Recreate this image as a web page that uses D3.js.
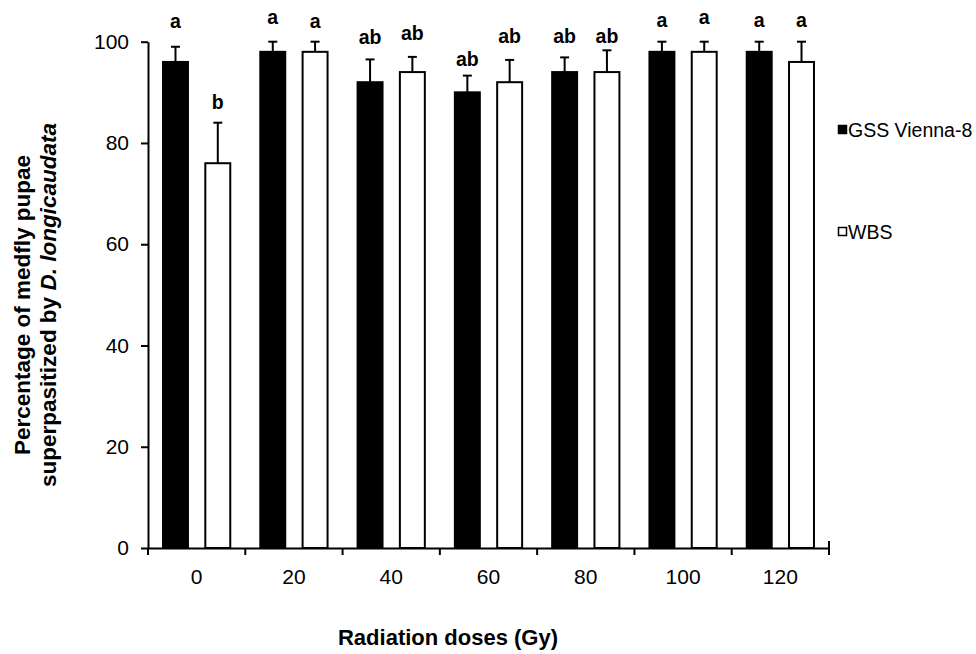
<!DOCTYPE html>
<html>
<head>
<meta charset="utf-8">
<script src="https://cdn.jsdelivr.net/npm/d3@7"></script>
<style>
  html, body { margin: 0; padding: 0; background: #fff; overflow: hidden; }
  svg { display: block; font-family: Arial, "Liberation Sans", sans-serif; }
</style>
</head>
<body>
<svg id="chart" width="976" height="654"></svg>
<script>
// ---- data ----
const doses = ["0", "20", "40", "60", "80", "100", "120"];
const seriesNames = ["GSS Vienna-8", "WBS"];
const gssValues = [96, 98, 92, 90, 94, 98, 98];
const gssErrors = [3, 2, 4.5, 3.3, 2.9, 2, 2];
const wbsValues = [76, 98, 94, 92, 94, 98, 96];
const wbsErrors = [8, 2, 3, 4.4, 4.3, 2, 4];
const gssLetters = ["a", "a", "ab", "ab", "ab", "a", "a"];
const wbsLetters = ["b", "a", "ab", "ab", "ab", "a", "a"];
const gssLetterY = [104.1, 104.9, 100.8, 96.6, 101.0, 104.3, 104.3];
const wbsLetterY = [88.1, 104.1, 101.6, 101.0, 101.0, 104.9, 104.3];
const yTicks = [0, 20, 40, 60, 80, 100];

const fills = ["#000000", "#ffffff"];

const svg = d3.select("#chart");
const plotLeft = 148, plotRight = 829, plotTop = 41.7, plotBottom = 548;

const x0 = d3.scaleBand().domain(doses).range([plotLeft, plotRight]).padding(0);
const x1 = d3.scaleBand().domain(seriesNames).range([0, x0.bandwidth()])
  .paddingInner(0.41).paddingOuter(0.355);
const y = d3.scaleLinear().domain([0, 100]).range([plotBottom, plotTop]);

const rows = [];
doses.forEach((d, i) => {
  rows.push({dose: d, s: seriesNames[0], v: gssValues[i], e: gssErrors[i], l: gssLetters[i], ly: gssLetterY[i]});
  rows.push({dose: d, s: seriesNames[1], v: wbsValues[i], e: wbsErrors[i], l: wbsLetters[i], ly: wbsLetterY[i]});
});

// bars
svg.append("g").selectAll("rect").data(rows).join("rect")
  .attr("x", d => x0(d.dose) + x1(d.s))
  .attr("y", d => y(d.v))
  .attr("width", x1.bandwidth())
  .attr("height", d => y(0) - y(d.v))
  .attr("fill", d => fills[seriesNames.indexOf(d.s)])
  .attr("stroke", "#000")
  .attr("stroke-width", 2);

// error bars (upper only)
const eg = svg.append("g").attr("stroke", "#000").attr("stroke-width", 2);
rows.forEach(d => {
  const cx = x0(d.dose) + x1(d.s) + x1.bandwidth() / 2;
  eg.append("line").attr("x1", cx).attr("x2", cx).attr("y1", y(d.v)).attr("y2", y(d.v + d.e));
  eg.append("line").attr("x1", cx - 4.5).attr("x2", cx + 4.5).attr("y1", y(d.v + d.e)).attr("y2", y(d.v + d.e));
});

// significance letters
svg.append("g").selectAll("text").data(rows).join("text")
  .attr("x", d => x0(d.dose) + x1(d.s) + x1.bandwidth() / 2)
  .attr("y", d => y(d.ly))
  .attr("dy", "0.35em")
  .attr("text-anchor", "middle")
  .attr("font-weight", "bold")
  .attr("font-size", 19.5)
  .text(d => d.l);

// y axis
const yAxis = svg.append("g").attr("transform", `translate(${plotLeft},0)`)
  .call(d3.axisLeft(y).tickValues(yTicks).tickSize(7).tickSizeOuter(0).tickPadding(12));
yAxis.selectAll("path, line").attr("stroke", "#000").attr("stroke-width", 2);
yAxis.selectAll("text").attr("font-size", 21).attr("fill", "#000")
  .attr("font-family", "Arial, 'Liberation Sans', sans-serif");

// x axis
const xAxis = svg.append("g").attr("transform", `translate(0,${plotBottom})`)
  .call(d3.axisBottom(x0).tickSize(0).tickSizeOuter(0).tickPadding(21));
xAxis.select("path").attr("stroke", "#000").attr("stroke-width", 2);
xAxis.selectAll("text").attr("font-size", 21).attr("fill", "#000")
  .attr("font-family", "Arial, 'Liberation Sans', sans-serif");
// boundary ticks
const bounds = doses.map(d => x0(d)).concat([x0.range()[1]]);
xAxis.selectAll("line.bt").data(bounds).join("line").attr("class", "bt")
  .attr("x1", d => d).attr("x2", d => d)
  .attr("y1", (d, i) => i === bounds.length - 1 ? -7 : 0)
  .attr("y2", 7)
  .attr("stroke", "#000").attr("stroke-width", 2);

// axis titles
svg.append("text")
  .attr("x", 448).attr("y", 645)
  .attr("text-anchor", "middle")
  .attr("font-weight", "bold").attr("font-size", 22)
  .text("Radiation doses (Gy)");

const yt = svg.append("g").attr("transform", "translate(0,305) rotate(-90)");
yt.append("text").attr("x", 0).attr("y", 30)
  .attr("text-anchor", "middle").attr("font-weight", "bold").attr("font-size", 22.5)
  .text("Percentage of medfly pupae");
const l2 = yt.append("text").attr("x", 0).attr("y", 56)
  .attr("text-anchor", "middle").attr("font-weight", "bold").attr("font-size", 22.5);
l2.append("tspan").text("superpasitized by ");
l2.append("tspan").attr("font-style", "italic").text("D. longicaudata");

// legend
const legendY = [130, 232];
const lg = svg.append("g");
seriesNames.forEach((s, i) => {
  lg.append("rect").attr("x", 838.5).attr("y", legendY[i] - 4.5).attr("width", 8).attr("height", 8)
    .attr("fill", fills[i]).attr("stroke", "#000").attr("stroke-width", 1.5);
  lg.append("text").attr("x", 848).attr("y", legendY[i]).attr("dy", "0.36em")
    .attr("font-size", 19.5).attr("fill", "#000").text(s);
});
</script>
</body>
</html>
